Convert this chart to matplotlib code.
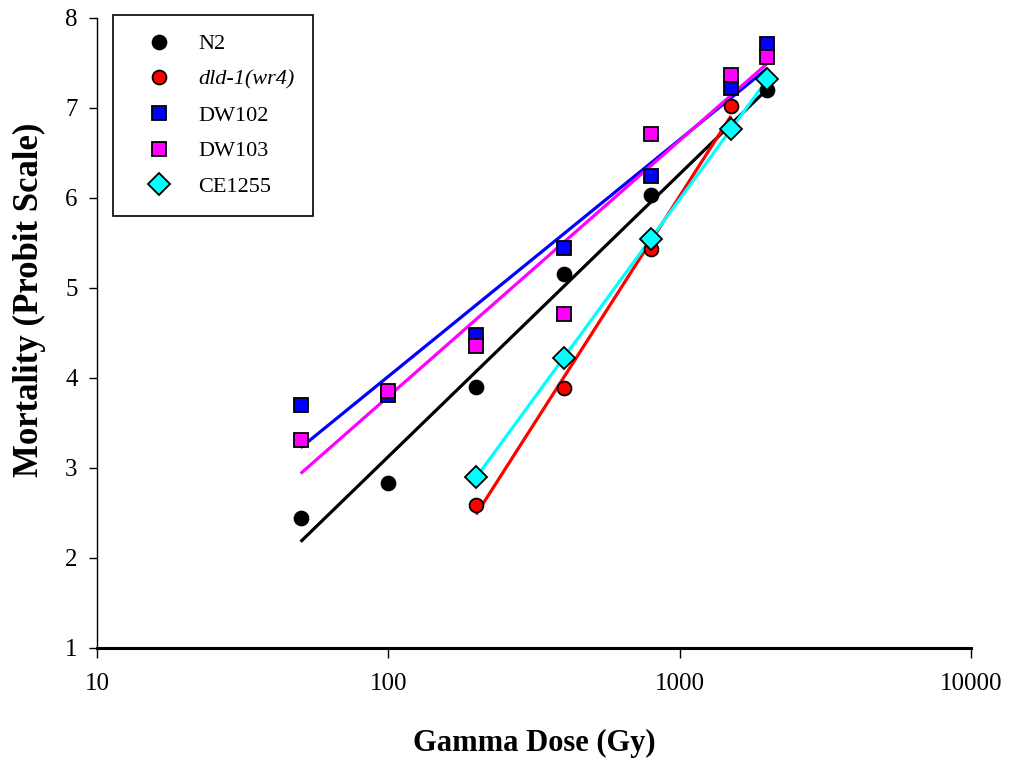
import numpy as np
import matplotlib
matplotlib.use("Agg")
import matplotlib.pyplot as plt
from matplotlib.ticker import FixedLocator, NullLocator, FixedFormatter

# gamma dose (Gy) and probit mortality for each strain
n2_dose = [50, 100, 200, 400, 800, 2000]
n2_probit = [2.45, 2.83, 3.90, 5.16, 6.03, 7.20]

dld1_dose = [200, 400, 800, 1500]
dld1_probit = [2.59, 3.89, 5.43, 7.02]

dw102_dose = [50, 100, 200, 400, 800, 1500, 2000]
dw102_probit = [3.70, 3.81, 4.48, 5.44, 6.24, 7.22, 7.71]

dw103_dose = [50, 100, 200, 400, 800, 1500, 2000]
dw103_probit = [3.31, 3.86, 4.36, 4.71, 6.71, 7.37, 7.57]

ce1255_dose = [200, 400, 800, 1500, 2000]
ce1255_probit = [2.90, 4.22, 5.55, 6.77, 7.32]

x_ticks = [10, 100, 1000, 10000]
y_ticks = [1, 2, 3, 4, 5, 6, 7, 8]

series = [
    ("N2", n2_dose, n2_probit, "black", "o", "black", "normal"),
    ("dld-1(wr4)", dld1_dose, dld1_probit, "red", "o", "black", "italic"),
    ("DW102", dw102_dose, dw102_probit, "blue", "s", "black", "normal"),
    ("DW103", dw103_dose, dw103_probit, "magenta", "s", "black", "normal"),
    ("CE1255", ce1255_dose, ce1255_probit, "cyan", "D", "black", "normal"),
]

SERIF = "Liberation Serif"

fig = plt.figure(figsize=(10.11, 7.58), dpi=100)
ax = fig.add_axes([97 / 1011, 1 - 648 / 758, 874 / 1011, 630 / 758])
ax.set_xscale("log")

# probit regression lines against log10(dose)
for name, dose, probit, color, marker, edge, style in series:
    lx = np.log10(dose)
    slope, icept = np.polyfit(lx, probit, 1)
    xs = np.array([min(dose), max(dose)])
    ax.plot(xs, icept + slope * np.log10(xs), color=color, lw=2.3,
            zorder=2, solid_capstyle="butt")

handles = []
for name, dose, probit, color, marker, edge, style in series:
    ms = 11 if marker == "D" else 10
    h, = ax.plot(dose, probit, ls="none", marker=marker, ms=ms,
                 mfc=color, mec=edge, mew=1.3, zorder=3, label=name)
    handles.append(h)

ax.set_xlim(10, 10000)
ax.set_ylim(1, 8)
ax.xaxis.set_major_locator(FixedLocator(x_ticks))
ax.xaxis.set_major_formatter(FixedFormatter([str(t) for t in x_ticks]))
ax.xaxis.set_minor_locator(NullLocator())
ax.set_yticks(y_ticks)

for s in ["top", "right"]:
    ax.spines[s].set_visible(False)
ax.spines["bottom"].set_linewidth(2.2)
ax.spines["left"].set_linewidth(1.0)
ax.tick_params(axis="x", direction="out", length=7, width=1.0, pad=11,
               labelsize=18)
ax.tick_params(axis="y", direction="out", length=6, width=1.0, pad=8,
               labelsize=18)
for lab in ax.get_xticklabels() + ax.get_yticklabels():
    lab.set_fontfamily(SERIF)

ax.set_xlabel("Gamma Dose (Gy)", fontfamily=SERIF, fontweight="bold",
              fontsize=22)
ax.xaxis.set_label_coords(0.5, -0.128)
ax.set_ylabel("Mortality (Probit Scale)", fontfamily=SERIF,
              fontweight="bold", fontsize=25)
ax.yaxis.set_label_coords(-0.058, 0.552)

leg = ax.legend(handles=handles, loc="upper left",
                bbox_to_anchor=(0.018, 1.005), frameon=True, fancybox=False,
                edgecolor="black", framealpha=1, borderpad=0.85,
                labelspacing=0.68, handlelength=2.5, handletextpad=0.5,
                borderaxespad=0, prop={"family": SERIF, "size": 16})
leg.get_frame().set_linewidth(1.2)
for txt, s in zip(leg.get_texts(), series):
    txt.set_fontstyle(s[6])

fig.savefig("out.png", dpi=100)
